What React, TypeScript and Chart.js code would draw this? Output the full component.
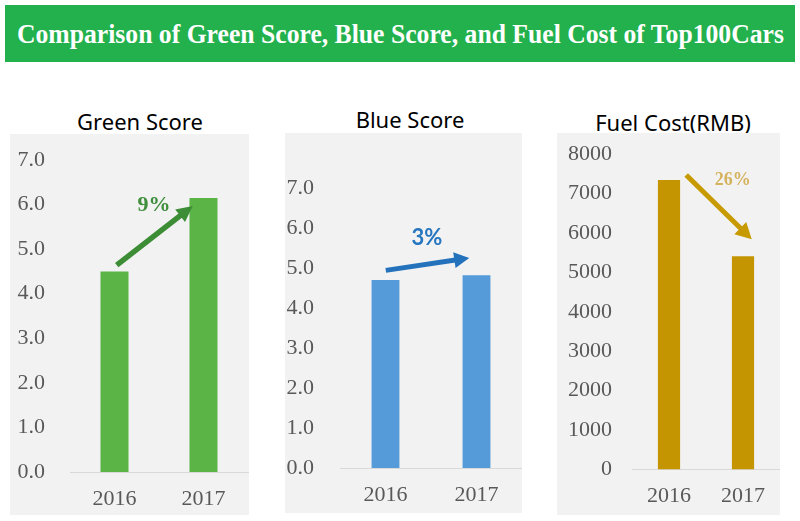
import React, { useEffect, useRef } from 'react';
import { Chart, registerables } from 'chart.js';

Chart.register(...registerables);

// ---- data ----
const years = ['2016', '2017'];
const greenScores = [4.5, 6.15];
const blueScores = [4.7, 4.82];
const fuelCosts = [7340, 5410];
const panelTitles = ['Green Score', 'Blue Score', 'Fuel Cost(RMB)'];
const changeLabels = ['9%', '3%', '26%'];
const scoreAxisMax = 7;
const scoreAxisStep = 1;
const fuelAxisMax = 8000;
const fuelAxisStep = 1000;
const mainTitle = 'Comparison of Green Score, Blue Score, and Fuel Cost of Top100Cars';

type ArrowCfg = {
  from: [number, number];
  to: [number, number];
  labelAt: [number, number];
  label: string;
  color: string;
  textColor: string;
  font: string;
  shaft: number;
  headLen: number;
  headHalf: number;
};

type PanelCfg = {
  title: string;
  titleX: number;
  titleY: number;
  left: number;
  top: number;
  w: number;
  h: number;
  padTop: number;
  padRight: number;
  yWidth: number;
  yPad: number;
  xHeight: number;
  xPad: number;
  values: number[];
  max: number;
  step: number;
  decimals: number;
  barColor: string;
  barPct: number;
  arrow: ArrowCfg;
};

const TICK_FONT = { family: '"Liberation Serif", serif', size: 22, lineHeight: 1 };
const TICK_COLOR = '#595959';

const panels: PanelCfg[] = [
  {
    title: panelTitles[0], titleX: 140, titleY: 121,
    left: 10, top: 134, w: 239, h: 381,
    padTop: 26, padRight: 1, yWidth: 60, yPad: 25, xHeight: 43, xPad: 16.5,
    values: greenScores, max: scoreAxisMax, step: scoreAxisStep, decimals: 1,
    barColor: '#5AB446', barPct: 0.315,
    arrow: {
      from: [0.025, 4.64], to: [0.879, 5.97], labelAt: [0.444, 5.99], label: changeLabels[0],
      color: '#3C8D36', textColor: '#3F8F3C', font: 'bold 22px "Liberation Serif", serif',
      shaft: 5.5, headLen: 16, headHalf: 8,
    },
  },
  {
    title: panelTitles[1], titleX: 410, titleY: 119,
    left: 285, top: 133, w: 237, h: 380,
    padTop: 55, padRight: 0, yWidth: 55, yPad: 26, xHeight: 45, xPad: 16.5,
    values: blueScores, max: scoreAxisMax, step: scoreAxisStep, decimals: 1,
    barColor: '#559BDA', barPct: 0.306,
    arrow: {
      from: [0.003, 4.94], to: [0.92, 5.25], labelAt: [0.454, 5.75], label: changeLabels[1],
      color: '#2472BC', textColor: '#2677C0', font: 'bold 22px Lato, "Open Sans", sans-serif',
      shaft: 5, headLen: 15, headHalf: 8,
    },
  },
  {
    title: panelTitles[2], titleX: 673, titleY: 122,
    left: 557, top: 133, w: 223, h: 382,
    padTop: 21, padRight: 0, yWidth: 75, yPad: 20, xHeight: 45.5, xPad: 15.7,
    values: fuelCosts, max: fuelAxisMax, step: fuelAxisStep, decimals: 0,
    barColor: '#C49500', barPct: 0.3,
    arrow: {
      from: [0.232, 7467], to: [1.118, 5837], labelAt: [0.862, 7323], label: changeLabels[2],
      color: '#C79A00', textColor: '#D5B35E', font: 'bold 18px "Liberation Serif", serif',
      shaft: 5, headLen: 16, headHalf: 8.5,
    },
  },
];

function makeArrowPlugin(a: ArrowCfg) {
  return {
    id: 'changeArrow',
    afterDatasetsDraw(chart: any) {
      const xs = chart.scales.x;
      const ys = chart.scales.y;
      const x1 = xs.getPixelForValue(a.from[0]);
      const y1 = ys.getPixelForValue(a.from[1]);
      const x2 = xs.getPixelForValue(a.to[0]);
      const y2 = ys.getPixelForValue(a.to[1]);
      const ang = Math.atan2(y2 - y1, x2 - x1);
      const bx = x2 - Math.cos(ang) * a.headLen;
      const by = y2 - Math.sin(ang) * a.headLen;
      const ctx = chart.ctx;
      ctx.save();
      ctx.strokeStyle = a.color;
      ctx.fillStyle = a.color;
      ctx.lineWidth = a.shaft;
      ctx.lineCap = 'butt';
      ctx.beginPath();
      ctx.moveTo(x1, y1);
      ctx.lineTo(bx + Math.cos(ang) * 1, by + Math.sin(ang) * 1);
      ctx.stroke();
      const px = -Math.sin(ang);
      const py = Math.cos(ang);
      ctx.beginPath();
      ctx.moveTo(x2, y2);
      ctx.lineTo(bx + px * a.headHalf, by + py * a.headHalf);
      ctx.lineTo(bx - px * a.headHalf, by - py * a.headHalf);
      ctx.closePath();
      ctx.fill();
      ctx.font = a.font;
      ctx.fillStyle = a.textColor;
      ctx.textAlign = 'center';
      ctx.textBaseline = 'middle';
      ctx.fillText(a.label, xs.getPixelForValue(a.labelAt[0]), ys.getPixelForValue(a.labelAt[1]));
      ctx.restore();
    },
  };
}

function Panel({ cfg }: { cfg: PanelCfg }) {
  const ref = useRef<HTMLCanvasElement>(null);
  useEffect(() => {
    if (!ref.current) return;
    const chart = new Chart(ref.current, {
      type: 'bar',
      data: {
        labels: years,
        datasets: [
          {
            data: cfg.values,
            backgroundColor: cfg.barColor,
            borderWidth: 0,
            barPercentage: cfg.barPct,
            categoryPercentage: 1,
          },
        ],
      },
      options: {
        responsive: false,
        animation: false,
        devicePixelRatio: window.devicePixelRatio || 1,
        layout: { padding: { top: cfg.padTop, right: cfg.padRight, left: 0, bottom: 0 } },
        plugins: {
          legend: { display: false },
          tooltip: { enabled: false },
          title: { display: false },
        },
        scales: {
          x: {
            grid: { display: false, drawTicks: false },
            border: { display: true, color: '#D9D9D9', width: 1 },
            ticks: { padding: cfg.xPad, color: TICK_COLOR, font: TICK_FONT, maxRotation: 0 },
            afterFit: (s: any) => {
              s.height = cfg.xHeight;
              s.paddingLeft = 0;
              s.paddingRight = 0;
            },
          },
          y: {
            min: 0,
            max: cfg.max,
            grid: { display: false, drawTicks: false },
            border: { display: false },
            ticks: {
              stepSize: cfg.step,
              autoSkip: false,
              padding: cfg.yPad,
              color: TICK_COLOR,
              font: TICK_FONT,
              callback: (v: any) => Number(v).toFixed(cfg.decimals),
            },
            afterFit: (s: any) => {
              s.width = cfg.yWidth;
              s.paddingTop = 0;
              s.paddingBottom = 0;
            },
          },
        },
      },
      plugins: [makeArrowPlugin(cfg.arrow)],
    } as any);
    return () => chart.destroy();
  }, [cfg]);

  return (
    <>
      <div
        style={{
          position: 'absolute',
          left: cfg.titleX - 120,
          top: cfg.titleY - 11,
          width: 240,
          height: 22,
          lineHeight: '22px',
          textAlign: 'center',
          fontFamily: '"Noto Sans", sans-serif',
          fontSize: 22,
          color: '#000',
          whiteSpace: 'nowrap',
        }}
      >
        {cfg.title}
      </div>
      <canvas
        ref={ref}
        width={cfg.w}
        height={cfg.h}
        style={{ position: 'absolute', left: cfg.left, top: cfg.top, background: '#F2F2F2' }}
      />
    </>
  );
}

export default function App() {
  const spanRef = useRef<HTMLSpanElement>(null);
  useEffect(() => {
    const el = spanRef.current;
    if (!el) return;
    const w = el.offsetWidth;
    if (w > 0) el.style.transform = `scaleX(${767 / w})`;
  }, []);
  return (
    <div
      style={{
        position: 'fixed',
        left: 0,
        top: 0,
        width: 800,
        height: 521,
        background: '#FFFFFF',
        overflow: 'hidden',
      }}
    >
      <div
        style={{
          position: 'absolute',
          left: 5,
          top: 5,
          width: 790,
          height: 57,
          background: '#22B14C',
          display: 'flex',
          alignItems: 'center',
          justifyContent: 'center',
        }}
      >
        <span
          ref={spanRef}
          style={{
            display: 'inline-block',
            fontFamily: '"Liberation Serif", "Times New Roman", serif',
            fontWeight: 'bold',
            fontSize: 28,
            color: '#FFFFFF',
            whiteSpace: 'nowrap',
            transformOrigin: 'center',
          }}
        >
          {mainTitle}
        </span>
      </div>
      {panels.map((p) => (
        <Panel key={p.title} cfg={p} />
      ))}
    </div>
  );
}
